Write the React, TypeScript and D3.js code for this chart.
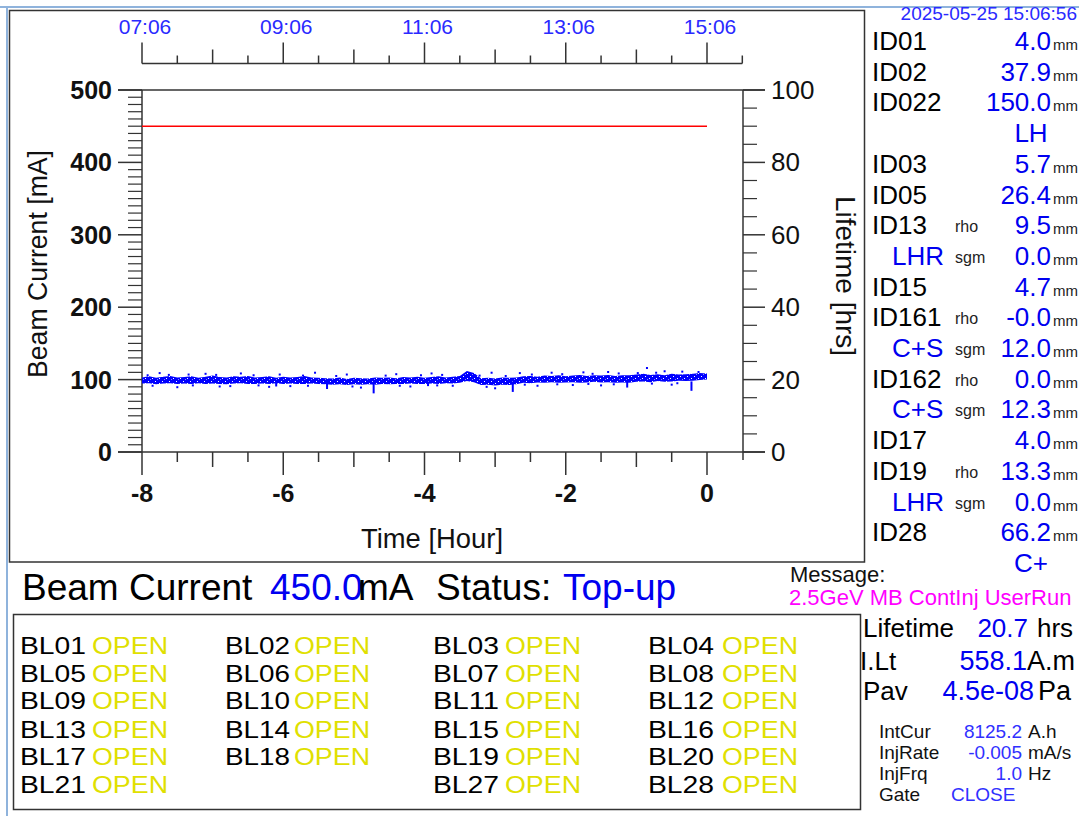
import React from 'react';
import * as d3 from 'd3';

// ---------- data ----------
const timeStart = -8;
const sampleStep = 0.1;
const lifetimeHi = [
  20.6, 20.9, 20.5, 20.8, 21.0, 20.6, 20.7, 20.9, 20.5, 20.8, 21.1, 20.7, 20.6, 20.9, 20.8, 21.0, 20.6, 20.7, 20.9, 20.5, 20.8, 20.6, 20.7, 21.0, 20.6, 20.5,
  20.4, 20.3, 20.6, 20.2, 20.5, 20.4, 20.3, 20.6,
  20.5, 20.6, 20.4, 20.7, 20.6, 20.8, 20.5, 20.7, 20.9, 20.6, 20.8, 21.0,
  22.4, 21.8,
  20.4, 20.5, 20.3, 20.6, 20.5,
  20.6,
  20.9, 21.0, 20.8, 21.1, 21.0, 21.2, 20.9, 21.1, 21.3, 21.0, 21.2, 21.1, 21.3, 21.0, 21.2,
  21.2,
  21.4, 21.6, 21.3, 21.5, 21.2, 21.6, 21.4, 21.5,
  21.6, 21.8, 21.7,
];
const lifetimeLo = [
  18.9, 19.0, 18.7, 18.9, 19.0, 18.8, 18.9, 18.8, 19.0, 18.8, 18.9, 18.8, 18.7, 18.9, 19.0, 18.8, 18.8, 18.9, 18.8, 19.0, 18.8, 18.9, 18.8, 18.8, 18.9, 18.8,
  18.7, 18.6, 18.7, 18.5, 18.7, 18.6, 18.7, 18.6,
  18.8, 18.7, 18.8, 18.8, 18.9, 18.8, 18.8, 18.9, 18.8, 19.0, 18.9, 19.1,
  19.6, 19.3,
  18.5, 18.6, 18.4, 18.6, 18.5,
  18.7,
  19.1, 19.0, 19.2, 19.1, 19.3, 19.1, 19.2, 19.3, 19.1, 19.2, 19.4, 19.2, 19.3, 19.1, 19.2,
  19.1,
  19.4, 19.5, 19.3, 19.6, 19.4, 19.5, 19.7, 19.6,
  19.7, 19.9, 20.0,
];
const spikeTimes = [-5.38, -4.72, -2.75, -1.13, -0.22, -6.1, -3.95];
const spikeLows = [17.4, 16.2, 16.6, 17.8, 16.9, 18.1, 18.2];
const dotTimes = [
  -7.75, -7.1, -6.6, -5.55, -5.1, -4.4, -3.9, -3.05, -2.65, -2.2, -1.75, -1.4, -0.85, -0.6, -0.35,
  -7.5, -6.9, -6.2, -5.9, -4.9, -4.2, -3.6, -3.0, -2.4, -1.9, -1.5, -0.5,
  -7.92, -7.62, -7.34, -6.95, -6.42, -6.05, -5.72, -5.25, -4.55, -4.05, -3.75, -3.22, -2.85, -2.48, -2.05, -1.62, -1.25, -0.98, -0.72, -0.12,
  -7.85, -7.28, -6.75, -6.35, -5.65, -5.02, -4.35, -3.82, -3.12, -2.58, -2.12, -1.68, -1.32, -0.78, -0.42,
];
const dotValues = [
  21.8, 21.6, 21.7, 21.9, 21.4, 21.5, 21.7, 21.9, 21.8, 21.9, 22.0, 22.1, 23.2, 22.3, 22.2,
  17.9, 18.1, 18.0, 18.2, 17.8, 18.1, 18.3, 17.6, 18.3, 18.5, 18.4, 18.6,
  21.2, 21.3, 21.4, 21.3, 21.2, 21.4, 21.1, 21.0, 21.1, 21.2, 21.3, 21.1, 21.0, 21.4, 21.5, 21.6, 21.7, 21.8, 21.9, 22.1,
  18.3, 18.4, 18.2, 18.4, 18.3, 18.1, 18.3, 18.4, 18.0, 18.6, 18.7, 18.8, 18.7, 18.9, 19.0,
];
const currentTimes = [-8, 0];
const currentValues = [450, 450];

const leftTicks = [0, 100, 200, 300, 400, 500];
const rightTicks = [0, 20, 40, 60, 80, 100];
const bottomTicks = [-8, -6, -4, -2, 0];
const topTickHours = [-8, -6, -4, -2, 0];
const topTickLabels = ['07:06', '09:06', '11:06', '13:06', '15:06'];

const panelLabels = ['ID01', 'ID02', 'ID022', '', 'ID03', 'ID05', 'ID13', 'LHR', 'ID15', 'ID161', 'C+S', 'ID162', 'C+S', 'ID17', 'ID19', 'LHR', 'ID28', ''];
const panelSubs = ['', '', '', '', '', '', 'rho', 'sgm', '', 'rho', 'sgm', 'rho', 'sgm', '', 'rho', 'sgm', '', ''];
const panelValues = ['4.0', '37.9', '150.0', 'LH', '5.7', '26.4', '9.5', '0.0', '4.7', '-0.0', '12.0', '0.0', '12.3', '4.0', '13.3', '0.0', '66.2', 'C+'];

const blNames = [
  ['BL01', 'BL05', 'BL09', 'BL13', 'BL17', 'BL21'],
  ['BL02', 'BL06', 'BL10', 'BL14', 'BL18'],
  ['BL03', 'BL07', 'BL11', 'BL15', 'BL19', 'BL27'],
  ['BL04', 'BL08', 'BL12', 'BL16', 'BL20', 'BL28'],
];
const blStatus = 'OPEN';

const smallLabels = ['IntCur', 'InjRate', 'InjFrq', 'Gate'];
const smallValues = ['8125.2', '-0.005', '1.0', 'CLOSE'];
const smallUnits = ['A.h', 'mA/s', 'Hz', ''];

const FONT = "'Liberation Sans', Arial, Helvetica, sans-serif";
const BLUE = '#0000f0';
const AX = '#333';

export default function App() {
  const x = d3.scaleLinear().domain([-8, 0]).range([142, 707]);
  const yL = d3.scaleLinear().domain([0, 500]).range([452, 90]);
  const yR = d3.scaleLinear().domain([0, 100]).range([452, 90]);

  const times = lifetimeHi.map((_, i) => timeStart + i * sampleStep);
  const area = d3.area<number>()
    .x((_, i) => x(times[i]))
    .y0((_, i) => yR(lifetimeLo[i]))
    .y1((_, i) => yR(lifetimeHi[i]));
  const currentLine = d3.line<number>()
    .x((_, i) => x(currentTimes[i]))
    .y((d) => yL(d));

  const halfHours = d3.range(-8, 0.51, 0.5);
  const bottomHalf = d3.range(-8, 0.01, 0.5);
  const leftMinor = d3.range(0, 501, 10).filter((v) => v % 100 !== 0);
  const rightMinor = d3.range(0, 101, 5).filter((v) => v % 20 !== 0);

  const tickLen = (h: number, big: number, mid: number, small: number) => {
    const r = Math.round(h * 2);
    if (r % 4 === 0) return big;
    if (r % 2 === 0) return mid;
    return small;
  };

  const rowY = (i: number) => 50 + i * 30.7;
  const blRowY = [654, 682, 709, 738, 765, 793];
  const blColX = [20, 225, 433, 648];
  const blOpenX = [92, 294, 505, 722];

  return (
    <svg width={1079} height={816} style={{ position: 'absolute', left: 0, top: 0, background: '#fff' }} fontFamily={FONT}>
      <defs>
        <pattern id="noise" width={7} height={5} patternUnits="userSpaceOnUse">
          <rect width={7} height={5} fill="#0000ff" />
          <rect x={1} y={1} width={1} height={1} fill="#fff" />
          <rect x={5} y={3} width={1} height={1} fill="#fff" />
          <rect x={3} y={4} width={1} height={1} fill="#8080ff" />
        </pattern>
      </defs>
      {/* window borders */}
      <line x1={0} y1={7} x2={1079} y2={7} stroke="#8fb3dc" strokeWidth={2} />
      <line x1={7} y1={7} x2={7} y2={816} stroke="#8fb3dc" strokeWidth={2} />
      <rect x={9.5} y={10.5} width={855} height={551.5} fill="none" stroke={AX} strokeWidth={1.5} />

      {/* top time axis */}
      <line x1={x(-8)} y1={63.5} x2={x(0.5)} y2={63.5} stroke={AX} strokeWidth={1.5} />
      {halfHours.map((h) => (
        <line key={'tt' + h} x1={x(h)} x2={x(h)} y1={63.5} y2={63.5 - tickLen(h + 8, 21, 14, 8)} stroke={AX} strokeWidth={1.5} />
      ))}
      {topTickHours.map((h, i) => (
        <text key={'tl' + h} x={x(h) + 3} y={34} fontSize={21} fill="#2a2aff" textAnchor="middle">{topTickLabels[i]}</text>
      ))}

      {/* frame lines */}
      <line x1={118} y1={yL(500)} x2={765} y2={yL(500)} stroke={AX} strokeWidth={1.5} />
      <line x1={118} y1={yL(0)} x2={765} y2={yL(0)} stroke={AX} strokeWidth={1.5} />
      <line x1={142} y1={yL(500)} x2={142} y2={yL(0)} stroke={AX} strokeWidth={1.5} />
      <line x1={743} y1={yR(100)} x2={743} y2={460} stroke={AX} strokeWidth={1.5} />

      {/* left axis */}
      {leftTicks.map((v) => (
        <g key={'lt' + v}>
          <line x1={118} x2={142} y1={yL(v)} y2={yL(v)} stroke={AX} strokeWidth={1.5} />
          <text x={112} y={yL(v) + 9} fontSize={25} fontWeight="bold" textAnchor="end" fill="#111">{v}</text>
        </g>
      ))}
      {leftMinor.map((v) => (
        <line key={'lm' + v} x1={128} x2={142} y1={yL(v)} y2={yL(v)} stroke={AX} strokeWidth={1.2} />
      ))}

      {/* right axis */}
      {rightTicks.map((v) => (
        <g key={'rt' + v}>
          <line x1={743} x2={765} y1={yR(v)} y2={yR(v)} stroke={AX} strokeWidth={1.5} />
          <text x={771} y={yR(v) + 9} fontSize={26} textAnchor="start" fill="#111">{v}</text>
        </g>
      ))}
      {rightMinor.map((v) => (
        <line key={'rm' + v} x1={743} x2={757} y1={yR(v)} y2={yR(v)} stroke={AX} strokeWidth={1.2} />
      ))}

      {/* bottom axis */}
      {bottomHalf.map((h) => (
        <line key={'bt' + h} x1={x(h)} x2={x(h)} y1={yL(0)} y2={yL(0) + tickLen(h + 8, 23, 15, 10)} stroke={AX} strokeWidth={1.5} />
      ))}
      {bottomTicks.map((h) => (
        <text key={'bl' + h} x={x(h)} y={502} fontSize={25} fontWeight="bold" textAnchor="middle" fill="#111">{h}</text>
      ))}

      {/* axis titles */}
      <text transform="translate(47,264) rotate(-90)" fontSize={27} textAnchor="middle" textLength={228} lengthAdjust="spacingAndGlyphs" fill="#111">Beam Current [mA]</text>
      <text transform="translate(836,276) rotate(90)" fontSize={27} textAnchor="middle" textLength={160} lengthAdjust="spacingAndGlyphs" fill="#111">Lifetime [hrs]</text>
      <text x={432} y={548} fontSize={27} textAnchor="middle" textLength={142} lengthAdjust="spacingAndGlyphs" fill="#111">Time [Hour]</text>

      {/* series */}
      <path d={currentLine(currentValues) || ''} stroke="#ff0000" strokeWidth={1.5} fill="none" />
      <path d={area(lifetimeHi) || ''} fill="url(#noise)" />
      {spikeTimes.map((t, i) => (
        <rect key={'sp' + i} x={x(t) - 1} width={2} y={yR(19.5)} height={yR(spikeLows[i]) - yR(19.5)} fill="#0000ff" />
      ))}
      {dotTimes.map((t, i) => (
        <rect key={'dt' + i} x={x(t) - 1} y={yR(dotValues[i]) - 1} width={2} height={2} fill="#0000ff" />
      ))}

      {/* right panel */}
      <text x={1077} y={20} fontSize={19} textAnchor="end" fill="#2a2aff">2025-05-25 15:06:56</text>
      {panelValues.map((v, i) => {
        const lab = panelLabels[i];
        const isMode = lab === 'LHR' || lab === 'C+S';
        const isTextVal = v === 'LH' || v === 'C+';
        return (
          <g key={'pr' + i}>
            {lab && (
              <text x={isMode ? 892 : 872} y={rowY(i)} fontSize={26} fill={isMode ? BLUE : '#000'}>{lab}</text>
            )}
            {panelSubs[i] && (
              <text x={955} y={rowY(i) - 2} fontSize={16} fill="#222">{panelSubs[i]}</text>
            )}
            {isTextVal ? (
              <text x={1031} y={rowY(i)} fontSize={26} fill={BLUE} textAnchor="middle">{v}</text>
            ) : (
              <g>
                <text x={1051} y={rowY(i)} fontSize={26} fill={BLUE} textAnchor="end">{v}</text>
                <text x={1053} y={rowY(i)} fontSize={15} fill="#222">mm</text>
              </g>
            )}
          </g>
        );
      })}

      {/* beam current status */}
      <text y={600} fontSize={37} fill="#000">
        <tspan x={22}>Beam Current</tspan>
        <tspan x={270} fill={BLUE}>450.0</tspan>
        <tspan x={358}>mA</tspan>
        <tspan x={436}>Status:</tspan>
        <tspan x={563} fill={BLUE}>Top-up</tspan>
      </text>

      {/* message */}
      <text x={790} y={582} fontSize={22} fill="#111">Message:</text>
      <text x={789} y={605} fontSize={22} fill="#ff00ff">2.5GeV MB ContInj UserRun</text>

      {/* beamline box */}
      <rect x={13.5} y={614.5} width={847} height={195} fill="none" stroke={AX} strokeWidth={1.5} />
      {blNames.map((col, c) =>
        col.map((name, r) => (
          <g key={name}>
            <text x={blColX[c]} y={blRowY[r]} fontSize={24} textLength={c === 1 ? 65 : 66} lengthAdjust="spacingAndGlyphs" fill="#000">{name}</text>
            <text x={blOpenX[c]} y={blRowY[r]} fontSize={24} textLength={76} lengthAdjust="spacingAndGlyphs" fill="#e0e000">{blStatus}</text>
          </g>
        ))
      )}

      {/* lifetime / pressure */}
      <text x={863} y={637} fontSize={26} fill="#000">Lifetime</text>
      <text x={1028} y={637} fontSize={26} fill={BLUE} textAnchor="end">20.7</text>
      <text x={1037} y={637} fontSize={26} fill="#000">hrs</text>
      <text x={860} y={670} fontSize={26} fill="#000">I.Lt</text>
      <text x={1027} y={670} fontSize={27} fill={BLUE} textAnchor="end">558.1</text>
      <text x={1027} y={670} fontSize={27} fill="#000">A.m</text>
      <text x={863} y={700} fontSize={26} fill="#000">Pav</text>
      <text x={1034} y={700} fontSize={27} fill={BLUE} textAnchor="end">4.5e-08</text>
      <text x={1038} y={700} fontSize={27} fill="#000">Pa</text>

      {smallLabels.map((l, i) => (
        <g key={l}>
          <text x={879} y={738 + i * 21} fontSize={19} fill="#111">{l}</text>
          {smallUnits[i] ? (
            <g>
              <text x={1022} y={738 + i * 21} fontSize={19} fill="#3030ff" textAnchor="end">{smallValues[i]}</text>
              <text x={1028} y={738 + i * 21} fontSize={19} fill="#111">{smallUnits[i]}</text>
            </g>
          ) : (
            <text x={951} y={738 + i * 21} fontSize={19} fill="#3030ff">{smallValues[i]}</text>
          )}
        </g>
      ))}
    </svg>
  );
}
